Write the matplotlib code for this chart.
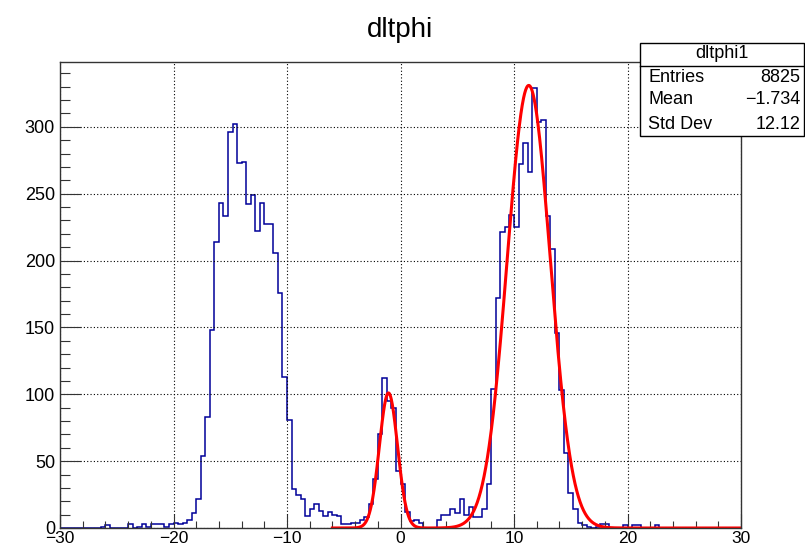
import numpy as np
import matplotlib
matplotlib.use("Agg")
import matplotlib.pyplot as plt
from matplotlib.patches import Rectangle

plt.rcParams["font.family"] = ["Liberation Sans", "DejaVu Sans"]

# histogram: 150 bins of 0.4 from -30 to 30
x_low, x_high, n_bins = -30.0, 30.0, 150
counts = [
    0, 0, 0, 0, 0, 0, 0, 0, 0, 1,            # -30.0 .. -26.0
    2, 0, 0, 0, 0, 3, 0, 1, 3, 1,            # -26.0 .. -22.0
    3, 3, 3, 1, 3, 4, 3, 4, 6, 11,           # -22.0 .. -18.0
    22, 54, 83, 148, 214, 243, 233, 296, 302, 273,   # -18.0 .. -14.0
    274, 242, 249, 222, 243, 227, 227, 206, 176, 113,  # -14.0 .. -10.0
    81, 29, 25, 22, 9, 14, 18, 13, 9, 12,    # -10.0 .. -6.0
    10, 9, 3, 3, 4, 4, 6, 8, 18, 37,         # -6.0 .. -2.0
    70, 112, 95, 90, 43, 33, 12, 5, 6, 4,    # -2.0 .. 2.0
    0, 0, 0, 6, 10, 10, 14, 11, 22, 10,      # 2.0 .. 6.0
    16, 8, 8, 14, 33, 104, 172, 221, 225, 234,   # 6.0 .. 10.0
    225, 272, 288, 266, 329, 304, 305, 233, 209, 146,  # 10.0 .. 14.0
    103, 56, 26, 14, 4, 2, 1, 0, 1, 3,       # 14.0 .. 18.0
    3, 0, 0, 0, 2, 0, 2, 2, 0, 0,            # 18.0 .. 22.0
    0, 2, 0, 0, 0, 0, 0, 0, 0, 0,            # 22.0 .. 26.0
    0, 0, 0, 0, 0, 0, 0, 0, 0, 0,            # 26.0 .. 30.0
]

# fitted function: two gaussians drawn over [-6, 30]
fit_range = (-6.0, 30.0)
fit_amp = [101.0, 331.0]
fit_mean = [-1.06, 11.3]
fit_sigma = [0.8, 1.9]

stats_name = "dltphi1"
stats_labels = ["Entries", "Mean", "Std Dev"]
stats_values = ["8825", "\u22121.734", "12.12"]

edges = np.linspace(x_low, x_high, n_bins + 1)

fig = plt.figure(figsize=(8.05, 5.48), dpi=100)
ax = fig.add_axes([60 / 805, 20 / 548, 681 / 805, 466 / 548])

ax.stairs(counts, edges, color="#000099", lw=1.1)

xf = np.linspace(fit_range[0], fit_range[1], 1200)
yf = np.zeros_like(xf)
for a, m, s in zip(fit_amp, fit_mean, fit_sigma):
    yf += a * np.exp(-0.5 * ((xf - m) / s) ** 2)
ax.plot(xf, yf, color="red", lw=2.2)

ax.set_xlim(x_low, x_high)
ax.set_ylim(0, 348.5)
ax.set_xticks(np.arange(-30, 31, 10))
ax.set_xticks(np.arange(-30, 31, 2), minor=True)
ax.set_yticks(np.arange(0, 301, 50))
ax.set_yticks(np.arange(0, 341, 10), minor=True)
ax.grid(True, which="major", color="black", linestyle=(0, (1, 2)), lw=0.8)
ax.tick_params(which="both", direction="in", top=False, right=False,
               labelsize=13, width=0.8, color="#333333")
ax.tick_params(axis="x", which="major", length=10, pad=2, labelsize=12.5)
ax.tick_params(axis="x", which="minor", length=5)
ax.tick_params(axis="y", which="major", length=15, pad=3.6)
ax.tick_params(axis="y", which="minor", length=7.5)
for sp in ax.spines.values():
    sp.set_linewidth(1.0)
    sp.set_color("#333333")

fig.text(400 / 805, 1 - 30 / 548, "dltphi", ha="center", va="center", fontsize=20)

# stats box
bx0, bx1 = 640 / 805, 804 / 805
by0, by1 = 1 - 136 / 548, 1 - 43 / 548
fig.patches.append(Rectangle((bx0, by0), bx1 - bx0, by1 - by0, transform=fig.transFigure,
                             facecolor="white", edgecolor="black", lw=1.0, zorder=5))
fig.lines.append(plt.Line2D([bx0, bx1], [1 - 66 / 548] * 2, transform=fig.transFigure,
                            color="black", lw=1.0, zorder=6))
fig.text((bx0 + bx1) / 2, 1 - 54 / 548, stats_name, ha="center", va="center",
         fontsize=13, zorder=7)
row_y = [78, 100, 124]
for lab, val, yy in zip(stats_labels, stats_values, row_y):
    fig.text(648 / 805, 1 - yy / 548, lab, ha="left", va="center", fontsize=13, zorder=7)
    fig.text(800 / 805, 1 - yy / 548, val, ha="right", va="center", fontsize=13, zorder=7)

fig.savefig("out.png", dpi=100)
